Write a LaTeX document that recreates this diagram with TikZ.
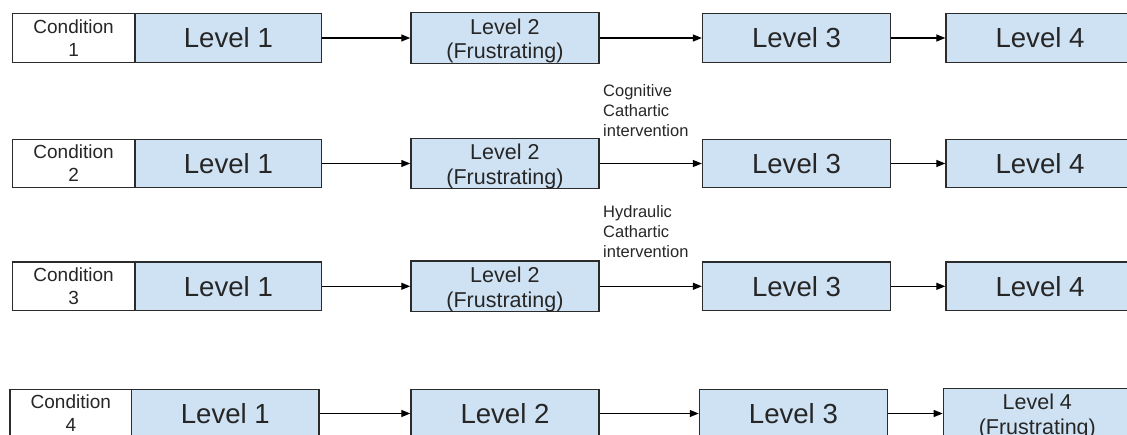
\documentclass[tikz,border=0pt]{standalone}
\usepackage{fontspec}
\setmainfont{Liberation Sans}
\usetikzlibrary{arrows.meta,calc}
\definecolor{lblue}{HTML}{CFE2F3}
\definecolor{bordercol}{HTML}{2B2B2B}
\definecolor{txtcol}{HTML}{262626}
\newcommand{\fstrut}{\rule{0pt}{21.5pt}}
\tikzset{
  basebox/.style={draw=bordercol, line width=1.3pt, inner sep=0pt, align=center, text=txtcol, minimum height=48.5pt},
  condbox/.style={basebox, fill=white, minimum width=122.5pt, font=\fontsize{19}{23}\selectfont},
  lvlbox/.style={basebox, fill=lblue, minimum width=188pt, font=\fontsize{27.6}{32}\selectfont},
  frbox/.style={basebox, fill=lblue, minimum width=188pt, font=\fontsize{21.5}{24.5}\selectfont},
  arr/.style={draw=black, line width=1.2pt, -{Triangle[length=9pt,width=7pt]}},
  lbl/.style={inner sep=0pt, align=left, text=txtcol, font=\fontsize{16.5}{20}\selectfont}
}
\begin{document}
\begin{tikzpicture}[x=1pt,y=-1pt]
\useasboundingbox (0,0) rectangle (1127,435);
% Row 1
\node[condbox] (c1) at (73.6,38) {Condition\\1};
\node[lvlbox, minimum width=186.7pt] (a1) at (228.4,38) {Level 1};
\node[frbox] (b1) at (504.9,38) {\fstrut Level 2\\(Frustrating)};
\node[lvlbox] (e1) at (796.5,38) {Level 3};
\node[lvlbox] (d1) at (1040,38) {Level 4};
\draw[arr] (a1) -- (b1);
\draw[arr] (b1) -- (e1);
\draw[arr] (e1) -- (d1);
% Row 2
\node[condbox] (c2) at (73.6,163.5) {Condition\\2};
\node[lvlbox, minimum width=186.7pt] (a2) at (228.4,163.5) {Level 1};
\node[frbox] (b2) at (504.9,163.5) {\fstrut Level 2\\(Frustrating)};
\node[lvlbox] (e2) at (796.5,163.5) {Level 3};
\node[lvlbox] (d2) at (1040,163.5) {Level 4};
\draw[arr] (a2) -- (b2);
\draw[arr] (b2) -- (e2);
\draw[arr] (e2) -- (d2);
\node[lbl, anchor=west] (cog) at (603,110.8) {Cognitive\\Cathartic\\intervention};
% Row 3
\node[condbox] (c3) at (73.6,286.3) {Condition\\3};
\node[lvlbox, minimum width=186.7pt] (a3) at (228.4,286.3) {Level 1};
\node[frbox] (b3) at (504.9,286.3) {\fstrut Level 2\\(Frustrating)};
\node[lvlbox] (e3) at (796.5,286.3) {Level 3};
\node[lvlbox] (d3) at (1040,286.3) {Level 4};
\draw[arr] (a3) -- (b3);
\draw[arr] (b3) -- (e3);
\draw[arr] (e3) -- (d3);
\node[lbl, anchor=west] (hyd) at (603,231.8) {Hydraulic\\Cathartic\\intervention};
% Row 4
\node[condbox, minimum width=121.7pt] (c4) at (70.85,413.5) {Condition\\4};
\node[lvlbox, minimum width=187.3pt] (a4) at (225.35,413.5) {Level 1};
\node[lvlbox] (b4) at (505,413.5) {Level 2};
\node[lvlbox] (e4) at (793.4,413.5) {Level 3};
\node[frbox] (d4) at (1037.3,413.5) {\fstrut Level 4\\(Frustrating)};
\draw[arr] (a4) -- (b4);
\draw[arr] (b4) -- (e4);
\draw[arr] (e4) -- (d4);
\end{tikzpicture}
\end{document}
